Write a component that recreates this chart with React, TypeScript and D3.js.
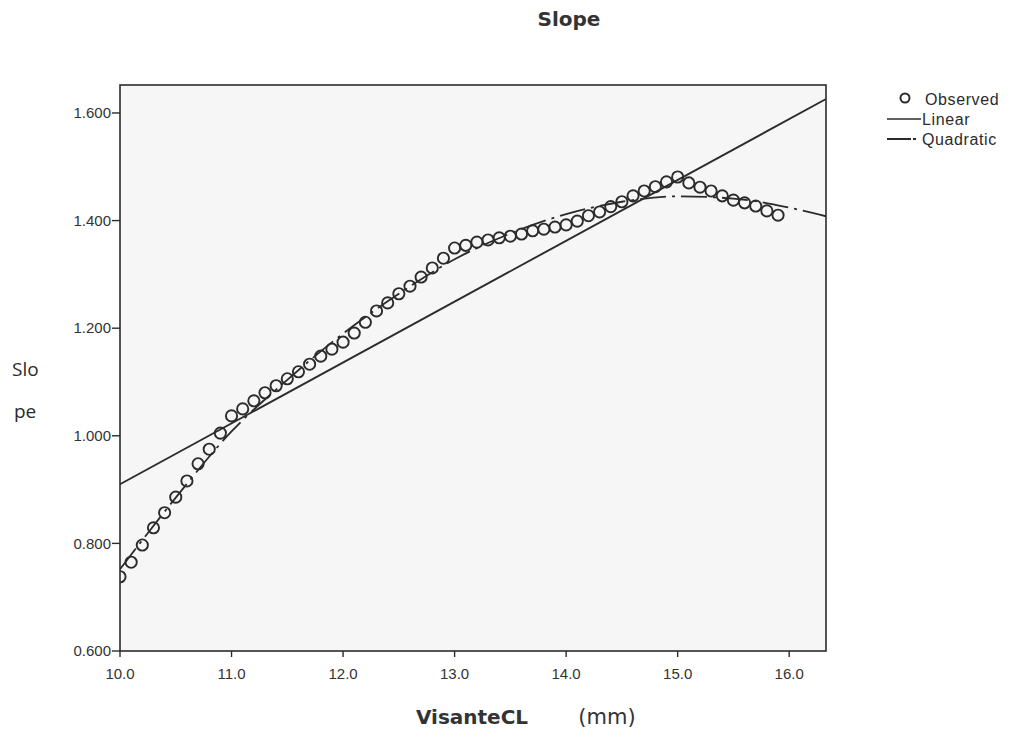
import * as d3 from 'd3'

const observedX = [
  10.0, 10.1, 10.2, 10.3, 10.4, 10.5, 10.6, 10.7, 10.8, 10.9,
  11.0, 11.1, 11.2, 11.3, 11.4, 11.5, 11.6, 11.7, 11.8, 11.9,
  12.0, 12.1, 12.2, 12.3, 12.4, 12.5, 12.6, 12.7, 12.8, 12.9,
  13.0, 13.1, 13.2, 13.3, 13.4, 13.5, 13.6, 13.7, 13.8, 13.9,
  14.0, 14.1, 14.2, 14.3, 14.4, 14.5, 14.6, 14.7, 14.8, 14.9,
  15.0, 15.1, 15.2, 15.3, 15.4, 15.5, 15.6, 15.7, 15.8, 15.9,
]
const observedY = [
  0.738, 0.765, 0.797, 0.829, 0.857, 0.886, 0.916, 0.948, 0.975, 1.005,
  1.037, 1.05, 1.065, 1.08, 1.093, 1.106, 1.119, 1.133, 1.148, 1.161,
  1.174, 1.191, 1.211, 1.232, 1.247, 1.264, 1.278, 1.295, 1.312, 1.33,
  1.349, 1.354, 1.36, 1.364, 1.368, 1.371, 1.375, 1.381, 1.384, 1.388,
  1.392, 1.399, 1.409, 1.416, 1.426, 1.435, 1.446, 1.455, 1.463, 1.472,
  1.481, 1.47, 1.462, 1.455, 1.446, 1.438, 1.433, 1.427, 1.418, 1.41,
]

const linearX = [10.0, 16.33]
const linearY = [0.91, 1.626]

const quadX = [10.0, 10.5, 11.0, 11.5, 12.0, 12.5, 13.0, 13.5, 14.0, 14.5, 15.0, 15.5, 16.0, 16.33]
const quadY = [0.752, 0.885, 1.008, 1.104, 1.19, 1.264, 1.328, 1.376, 1.412, 1.435, 1.445, 1.441, 1.424, 1.408]

const xTicks = [10, 11, 12, 13, 14, 15, 16]
const yTicks = [0.6, 0.8, 1.0, 1.2, 1.4, 1.6]

const legendItems = ['Observed', 'Linear', 'Quadratic']

type Pt = [number, number]

export default function App() {
  const width = 1010
  const height = 734
  const plot = { left: 120, right: 826, top: 85, bottom: 651 }
  const ink = '#2b2b2b'
  const font = 'Arial, "Liberation Sans", sans-serif'
  const wide = '"DejaVu Sans", Verdana, sans-serif'

  const x = d3.scaleLinear().domain([10, 16.33]).range([plot.left, plot.right])
  const y = d3.scaleLinear().domain([0.6, 1.652]).range([plot.bottom, plot.top])

  const straight = d3
    .line<Pt>()
    .x((d) => x(d[0]))
    .y((d) => y(d[1]))
  const curve = d3
    .line<Pt>()
    .x((d) => x(d[0]))
    .y((d) => y(d[1]))
    .curve(d3.curveMonotoneX)

  const linPts: Pt[] = linearX.map((v, i) => [v, linearY[i]])
  const quadPts: Pt[] = quadX.map((v, i) => [v, quadY[i]])

  return (
    <div style={{ position: 'absolute', left: 0, top: 0 }}>
      <svg width={width} height={height} style={{ display: 'block', background: '#fff' }}>
        <defs>
          <clipPath id="plotclip">
            <rect x={plot.left} y={plot.top} width={plot.right - plot.left} height={plot.bottom - plot.top} />
          </clipPath>
        </defs>
        <text x={569} y={26} textAnchor="middle" fontFamily={wide} fontWeight="bold" fontSize={20} fill="#333">
          Slope
        </text>

        <rect
          x={plot.left}
          y={plot.top}
          width={plot.right - plot.left}
          height={plot.bottom - plot.top}
          fill="#f6f6f6"
          stroke={ink}
          strokeWidth={1.6}
        />

        <g clipPath="url(#plotclip)">
          <path d={straight(linPts) ?? undefined} fill="none" stroke={ink} strokeWidth={1.9} />
          <path
            d={curve(quadPts) ?? undefined}
            fill="none"
            stroke={ink}
            strokeWidth={1.8}
            strokeDasharray="26,6,3,6"
          />
          {observedX.map((v, i) => (
            <circle key={i} cx={x(v)} cy={y(observedY[i])} r={5.6} fill="none" stroke={ink} strokeWidth={1.9} />
          ))}
        </g>

        {yTicks.map((t) => (
          <g key={t}>
            <line x1={plot.left - 8} x2={plot.left} y1={y(t)} y2={y(t)} stroke={ink} strokeWidth={1.4} />
            <text
              x={plot.left - 9}
              y={y(t)}
              dy="0.35em"
              textAnchor="end"
              fontFamily={font}
              fontSize={15}
              fill="#333"
            >
              {d3.format('.3f')(t)}
            </text>
          </g>
        ))}

        {xTicks.map((t) => (
          <g key={t}>
            <line x1={x(t)} x2={x(t)} y1={plot.bottom} y2={plot.bottom + 6} stroke={ink} strokeWidth={1.4} />
            <text x={x(t)} y={plot.bottom + 28} textAnchor="middle" fontFamily={font} fontSize={15} fill="#333">
              {d3.format('.1f')(t)}
            </text>
          </g>
        ))}

        <text x={12} y={376} fontFamily='"Open Sans", sans-serif' fontSize={19} fill={ink}>
          Slo
        </text>
        <text x={14} y={418} fontFamily='"Open Sans", sans-serif' fontSize={19} fill={ink}>
          pe
        </text>

        <text x={472} y={724} textAnchor="middle" fontFamily={wide} fontWeight="bold" fontSize={20} fill="#333">
          VisanteCL
        </text>
        <text x={607} y={724} textAnchor="middle" fontFamily={wide} fontSize={21} fill="#333">
          (mm)
        </text>

        <g fontFamily={font} fontSize={16} fill={ink} letterSpacing={0.6}>
          {legendItems.map((name, i) => {
            const ly = 99 + i * 20
            return (
              <g key={name}>
                {i === 0 && <circle cx={905} cy={ly - 1} r={4.5} fill="none" stroke={ink} strokeWidth={2} />}
                {i === 1 && <line x1={887} x2={921} y1={ly} y2={ly} stroke={ink} strokeWidth={1.6} />}
                {i === 2 && (
                  <line x1={887} x2={921} y1={ly} y2={ly} stroke={ink} strokeWidth={2} strokeDasharray="24,2,3,6" />
                )}
                <text x={i === 0 ? 925 : 922} y={ly} dy="0.36em">
                  {name}
                </text>
              </g>
            )
          })}
        </g>
      </svg>
    </div>
  )
}
